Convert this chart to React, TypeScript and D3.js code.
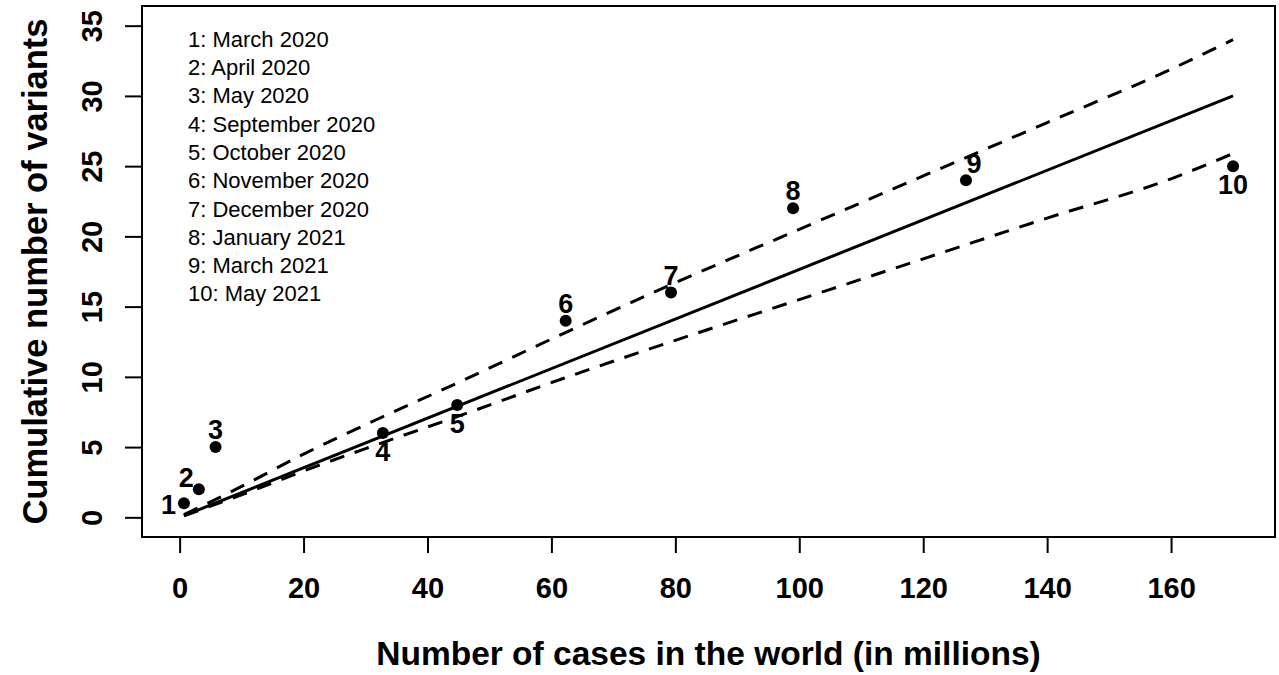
import React, { useEffect, useRef } from 'react';
import * as d3 from 'd3';

// points: cases (millions) vs cumulative variants
const caseMillions = [0.7, 3.1, 5.8, 32.8, 44.8, 62.3, 79.3, 99.0, 126.9, 170.0];
const variantCount = [1, 2, 5, 6, 8, 14, 16, 22, 24, 25];
const pointLabels = ['1', '2', '3', '4', '5', '6', '7', '8', '9', '10'];
const labelSide = ['left', 'upleft', 'above', 'below', 'below', 'above', 'above', 'above', 'aboveright', 'below'];

const monthLabels = [
  '1: March 2020',
  '2: April 2020',
  '3: May 2020',
  '4: September 2020',
  '5: October 2020',
  '6: November 2020',
  '7: December 2020',
  '8: January 2021',
  '9: March 2021',
  '10: May 2021',
];

// fitted line and interval band
const fitX = [0.7, 170];
const fitY = [0.12, 30.0];
const bandX = [0.7, 5, 10, 20, 32, 45, 62, 80, 100, 120, 140, 160, 170];
const upperY = [0.2, 1.1, 2.2, 4.5, 7.0, 9.6, 13.1, 16.7, 20.5, 24.3, 28.1, 31.9, 34.0];
const lowerY = [0.1, 0.8, 1.6, 3.3, 5.2, 7.2, 9.9, 12.6, 15.5, 18.4, 21.3, 24.1, 25.9];

const xTicks = [0, 20, 40, 60, 80, 100, 120, 140, 160];
const yTicks = [0, 5, 10, 15, 20, 25, 30, 35];
const yLim = [0, 35];

const xTitle = 'Number of cases in the world (in millions)';
const yTitle = 'Cumulative number of variants';

const W = 1279;
const H = 675;
const margin = { left: 142, right: 4, top: 6, bottom: 138 };
const FONT = '"Liberation Sans", Arial, sans-serif';

// R style 4% padding
const pad = (lo: number, hi: number) => {
  const d = (hi - lo) * 0.04;
  return [lo - d, hi + d];
};

const App = () => {
  const svgRef = useRef<SVGSVGElement>(null);

  useEffect(() => {
    const svg = d3.select(svgRef.current);
    svg.selectAll('*').remove();

    const xExt = d3.extent(caseMillions) as [number, number];
    const xScale = d3.scaleLinear()
      .domain(pad(xExt[0], xExt[1]))
      .range([margin.left, W - margin.right]);
    const yScale = d3.scaleLinear()
      .domain(pad(yLim[0], yLim[1]))
      .range([H - margin.bottom, margin.top]);

    const x0 = margin.left;
    const x1 = W - margin.right;
    const y0 = H - margin.bottom;
    const y1 = margin.top;

    // box
    svg.append('rect')
      .attr('x', x0).attr('y', y1)
      .attr('width', x1 - x0).attr('height', y0 - y1)
      .attr('fill', 'none').attr('stroke', '#000').attr('stroke-width', 2);

    // X axis
    const xAxis = d3.axisBottom(xScale)
      .tickValues(xTicks)
      .tickSize(16)
      .tickPadding(24)
      .tickFormat(d3.format('d'));
    const gx = svg.append('g')
      .attr('transform', `translate(0, ${y0})`)
      .call(xAxis);
    gx.select('.domain').remove();
    gx.selectAll('line').attr('stroke', '#000').attr('stroke-width', 2);
    gx.selectAll('text')
      .attr('font-family', FONT).attr('font-size', 29).attr('font-weight', 'bold')
      .attr('fill', '#000').attr('dy', null).attr('y', 61);

    // Y axis
    const yAxis = d3.axisLeft(yScale)
      .tickValues(yTicks)
      .tickSize(17)
      .tickFormat(d3.format('d'));
    const gy = svg.append('g')
      .attr('transform', `translate(${x0}, 0)`)
      .call(yAxis);
    gy.select('.domain').remove();
    gy.selectAll('line').attr('stroke', '#000').attr('stroke-width', 2);
    gy.selectAll('text')
      .attr('font-family', FONT).attr('font-size', 29).attr('font-weight', 'bold')
      .attr('fill', '#000')
      .attr('x', null).attr('dy', null)
      .attr('text-anchor', 'middle')
      .attr('transform', 'translate(-40, 0) rotate(-90)');

    // titles
    svg.append('text')
      .attr('x', (x0 + x1) / 2).attr('y', 665)
      .attr('text-anchor', 'middle')
      .attr('font-family', FONT).attr('font-size', 33.5).attr('font-weight', 'bold')
      .text(xTitle);
    svg.append('text')
      .attr('transform', `translate(47, ${(y0 + y1) / 2}) rotate(-90)`)
      .attr('text-anchor', 'middle')
      .attr('font-family', FONT).attr('font-size', 34.5).attr('font-weight', 'bold')
      .text(yTitle);

    // band + fit
    const line = d3.line<[number, number]>()
      .x(d => xScale(d[0]))
      .y(d => yScale(d[1]));

    svg.append('path')
      .attr('d', line(fitX.map((v, i) => [v, fitY[i]])))
      .attr('fill', 'none').attr('stroke', '#000').attr('stroke-width', 3);

    [upperY, lowerY].forEach(ys => {
      svg.append('path')
        .attr('d', line.curve(d3.curveMonotoneX)(bandX.map((v, i) => [v, ys[i]])))
        .attr('fill', 'none').attr('stroke', '#000').attr('stroke-width', 3)
        .attr('stroke-dasharray', '15 11');
    });

    // points
    svg.selectAll('.pt')
      .data(caseMillions)
      .join('circle')
      .attr('class', 'pt')
      .attr('cx', d => xScale(d))
      .attr('cy', (d, i) => yScale(variantCount[i]))
      .attr('r', 6)
      .attr('fill', '#000');

    // point labels
    const off: Record<string, [number, number, string]> = {
      left: [-8, 11, 'end'],
      upleft: [-5, -2, 'end'],
      above: [0, -8, 'middle'],
      aboveright: [8, -7, 'middle'],
      below: [0, 28, 'middle'],
    };
    svg.selectAll('.plab')
      .data(pointLabels)
      .join('text')
      .attr('class', 'plab')
      .attr('x', (d, i) => xScale(caseMillions[i]) + off[labelSide[i]][0])
      .attr('y', (d, i) => yScale(variantCount[i]) + off[labelSide[i]][1])
      .attr('text-anchor', (d, i) => off[labelSide[i]][2])
      .attr('font-family', FONT).attr('font-size', 27).attr('font-weight', 'bold')
      .text(d => d);

    // legend text
    svg.selectAll('.leg')
      .data(monthLabels)
      .join('text')
      .attr('class', 'leg')
      .attr('x', 188)
      .attr('y', (d, i) => 46.7 + i * 28.3)
      .attr('font-family', FONT).attr('font-size', 22)
      .text(d => d);
  }, []);

  return (
    <svg
      ref={svgRef}
      width={W}
      height={H}
      style={{ position: 'absolute', left: 0, top: 0, background: '#fff' }}
    />
  );
};

export default App;
